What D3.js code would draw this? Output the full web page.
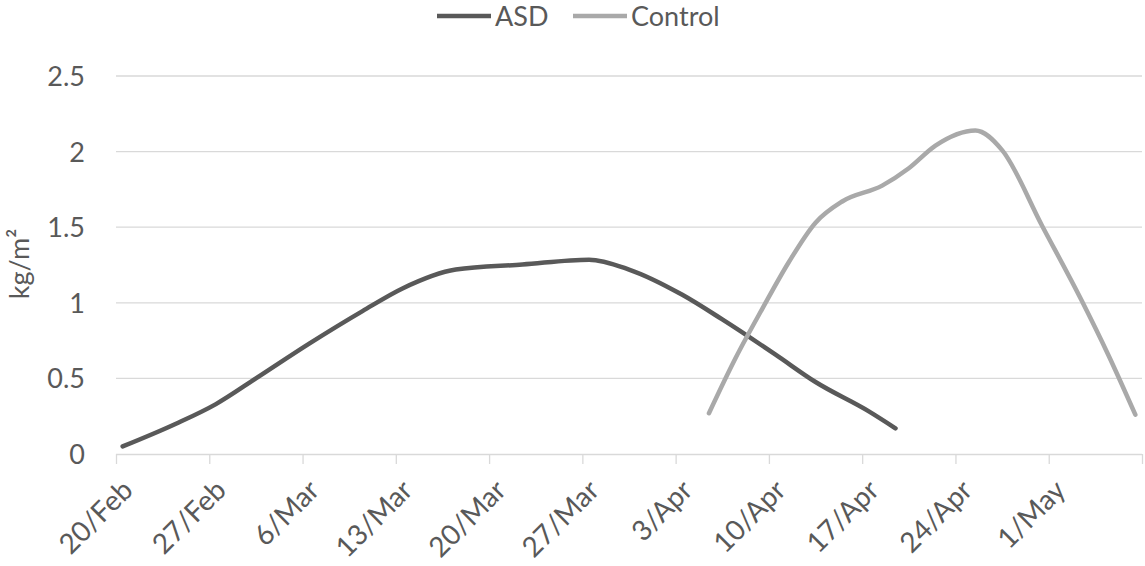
<!DOCTYPE html>
<html><head><meta charset="utf-8">
<script src="https://cdn.jsdelivr.net/npm/d3@7"></script>
<style>
body{margin:0;background:#fff}
text{font-family:Lato, "Open Sans", sans-serif; fill:#595959}
</style>
</head><body>
<svg id="chart" width="1145" height="566"></svg>
<script>
// ---- data ----
const tickDates  = ["2019-02-20","2019-02-27","2019-03-06","2019-03-13","2019-03-20","2019-03-27","2019-04-03","2019-04-10","2019-04-17","2019-04-24","2019-05-01","2019-05-08"];
const tickLabels = ["20/Feb","27/Feb","6/Mar","13/Mar","20/Mar","27/Mar","3/Apr","10/Apr","17/Apr","24/Apr","1/May",""];
const yTicks = [0, 0.5, 1, 1.5, 2, 2.5];

const asdDates  = ["2019-02-20","2019-02-24","2019-02-27","2019-03-02","2019-03-06","2019-03-10","2019-03-13","2019-03-17","2019-03-22","2019-03-27","2019-03-30","2019-04-03","2019-04-06","2019-04-10","2019-04-13","2019-04-17","2019-04-19"];
const asdValues = [0.05, 0.20, 0.33, 0.50, 0.73, 0.945, 1.095, 1.22, 1.253, 1.285, 1.22, 1.053, 0.89, 0.657, 0.476, 0.282, 0.17];

const controlDates  = ["2019-04-05","2019-04-07","2019-04-09","2019-04-11","2019-04-13","2019-04-15","2019-04-18","2019-04-20","2019-04-22","2019-04-25","2019-04-27","2019-04-30","2019-05-03","2019-05-05","2019-05-07"];
const controlValues = [0.27, 0.635, 0.96, 1.27, 1.53, 1.67, 1.775, 1.89, 2.04, 2.14, 2.01, 1.51, 1.01, 0.65, 0.26];

const seriesNames  = ["ASD", "Control"];
const seriesColors = ["#595959", "#a9a9a9"];

// ---- helpers ----
const parse = s => d3.isoParse(s + "T00:00:00Z");

const svg = d3.select("#chart");
const mLeft = 116, mRight = 1142, mTop = 76, mBottom = 454;

const x = d3.scaleUtc()
  .domain([parse(tickDates[0]), parse(tickDates[tickDates.length - 1])])
  .range([mLeft, mRight]);
const y = d3.scaleLinear().domain([0, 2.5]).range([mBottom, mTop]);
// points sit in the middle of their day (date axis, "between tick marks")
const xPoint = d => x(d3.utcHour.offset(d, 12));

// gridlines
svg.append("g")
  .selectAll("line").data(yTicks.filter(v => v > 0)).join("line")
  .attr("x1", mLeft).attr("x2", mRight)
  .attr("y1", d => y(d)).attr("y2", d => y(d))
  .attr("stroke", "#d9d9d9").attr("stroke-width", 1.3);

// y axis labels
const yAxis = d3.axisLeft(y).tickValues(yTicks).tickSize(0).tickPadding(0)
  .tickFormat(d => String(d));
const gy = svg.append("g").attr("transform", `translate(${mLeft - 31},0)`).call(yAxis);
gy.select(".domain").remove();
gy.selectAll("text").style("font-size", "27px").attr("fill", "#595959").attr("dy", "0.35em");

// x axis
const tickMap = new Map(tickDates.map((d, i) => [+parse(d), tickLabels[i]]));
const xAxis = d3.axisBottom(x).tickValues(tickDates.map(parse)).tickSize(10)
  .tickFormat(d => tickMap.get(+d));
const gx = svg.append("g").attr("transform", `translate(0,${mBottom})`).call(xAxis);
gx.select(".domain").attr("stroke", "#d9d9d9").attr("stroke-width", 1.3).attr("d", `M${mLeft},0.5H${mRight}`);
gx.selectAll(".tick line").attr("stroke", "#d9d9d9").attr("stroke-width", 1.3);
gx.selectAll("text")
  .style("font-size", "28px").attr("fill", "#595959")
  .attr("text-anchor", "end")
  .attr("dy", null).attr("y", null)
  .attr("transform", "translate(18,38) rotate(-45)");

// y title
svg.append("text")
  .attr("transform", "translate(29,264) rotate(-90)")
  .attr("text-anchor", "middle")
  .style("font-size", "27px")
  .text("kg/m²");

// lines
const line = d3.line()
  .x(d => xPoint(d[0])).y(d => y(d[1]))
  .curve(d3.curveMonotoneX);

const series = [
  asdDates.map((d, i) => [parse(d), asdValues[i]]),
  controlDates.map((d, i) => [parse(d), controlValues[i]])
];
svg.append("g").selectAll("path").data(series).join("path")
  .attr("d", line)
  .attr("fill", "none")
  .attr("stroke", (d, i) => seriesColors[i])
  .attr("stroke-width", 4.5)
  .attr("stroke-linecap", "round")
  .attr("stroke-linejoin", "round");

// legend
const legendX = [437, 573];
const lg = svg.append("g").selectAll("g").data(seriesNames).join("g")
  .attr("transform", (d, i) => `translate(${legendX[i]},16)`);
lg.append("line").attr("x1", 0).attr("x2", 54).attr("y1", 0).attr("y2", 0)
  .attr("stroke", (d, i) => seriesColors[i]).attr("stroke-width", 4.5);
lg.append("text").attr("x", 58).attr("y", 10)
  .style("font-size", "27px").text(d => d);
</script>
</body></html>
